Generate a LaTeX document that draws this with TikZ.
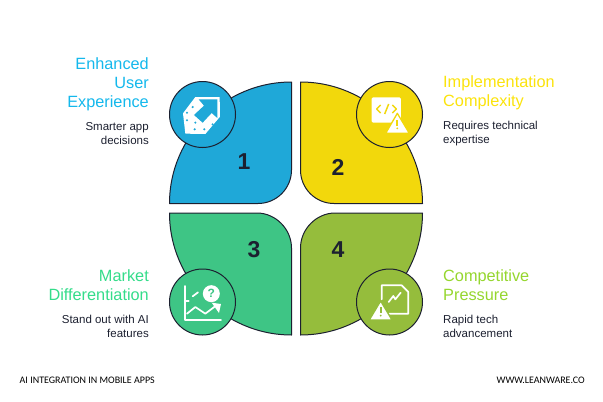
\documentclass[tikz,border=0pt]{standalone}
\usepackage{fontspec}
\setmainfont{Liberation Sans}
\newfontfamily\footfont{Carlito}
\usetikzlibrary{arrows.meta,positioning}
\definecolor{ink}{HTML}{1C2030}
\definecolor{blueFill}{HTML}{1FA8D8}
\definecolor{yellowFill}{HTML}{F2D80C}
\definecolor{greenFill}{HTML}{3EC585}
\definecolor{oliveFill}{HTML}{95BD3C}
\definecolor{blueText}{HTML}{14B8EC}
\definecolor{yellowText}{HTML}{FBE30C}
\definecolor{greenText}{HTML}{34DC8A}
\definecolor{oliveText}{HTML}{95D62E}
\tikzset{%
  % Specifications for style of nodes:
        petal/.style = {draw=ink, line width=1pt, line join=round},
      iconDot/.style = {minimum size=66pt, circle, draw=ink, line width=1pt, inner sep=0pt},
       number/.style = {text=ink, font=\fontsize{23}{23}\selectfont\bfseries, inner sep=0pt},
    titleLeft/.style = {anchor=east, align=right, inner sep=0pt,
                        font=\fontsize{16.3}{19}\selectfont},
   titleRight/.style = {titleLeft, anchor=west, align=left},
      subLeft/.style = {anchor=east, align=right, inner sep=0pt, text=ink,
                        font=\fontsize{11.5}{14}\selectfont},
     subRight/.style = {subLeft, anchor=west, align=left},
     footNote/.style = {inner sep=0pt, text=black, font=\footfont\fontsize{10}{11}\selectfont},
     iconLine/.style = {draw=white, line width=1.7pt, line cap=round, line join=round},
}
\begin{document}
\begin{tikzpicture}[x=1pt, y=-1pt]
\useasboundingbox (0,0) rectangle (603,402);

% the four petals
\draw[petal, fill=blueFill] (291.5,82) -- (291.5,170)
  .. controls (291.5,188.5) and (276.5,203.5) .. (258,203.5) -- (169.5,203.5)
  .. controls (169.5,136.5) and (224.5,82) .. cycle;
\draw[petal, fill=yellowFill] (300.5,82) -- (300.5,170)
  .. controls (300.5,188.5) and (315.5,203.5) .. (334,203.5) -- (422.5,203.5)
  .. controls (422.5,136.5) and (367.5,82) .. cycle;
\draw[petal, fill=greenFill] (169.5,213) -- (257,213)
  .. controls (275.5,213) and (291.5,229) .. (291.5,248) -- (291.5,335)
  .. controls (224.5,335) and (169.5,280) .. cycle;
\draw[petal, fill=oliveFill] (422.5,213) -- (335,213)
  .. controls (316.5,213) and (300.5,229) .. (300.5,248) -- (300.5,335)
  .. controls (367.5,335) and (422.5,280) .. cycle;

\node (DotA) [iconDot, fill=blueFill]   at (202.5,114.5) {};
\node (DotB) [iconDot, fill=yellowFill] at (389.5,114.5) {};
\node (DotC) [iconDot, fill=greenFill]  at (202.5,302) {};
\node (DotD) [iconDot, fill=oliveFill]  at (389.5,302) {};

\node (NumA) [number] at (244,162) {1};
\node (NumB) [number] at (338,167) {2};
\node (NumC) [number] at (254,250) {3};
\node (NumD) [number] at (338,250) {4};

% texts
\node (TitleA) [titleLeft, text=blueText] at (149,84) {Enhanced\\User\\Experience};
\node (SubA)   [subLeft] at (149,134) {Smarter app\\decisions};
\node (TitleB) [titleRight, text=yellowText] at (443,93) {Implementation\\Complexity};
\node (SubB)   [subRight] at (443,134) {Requires technical\\expertise};
\node (TitleC) [titleLeft, text=greenText] at (149,285) {Market\\Differentiation};
\node (SubC)   [subLeft] at (149,326) {Stand out with AI\\features};
\node (TitleD) [titleRight, text=oliveText] at (443,285) {Competitive\\Pressure};
\node (SubD)   [subRight] at (443,326) {Rapid tech\\advancement};
\node (FootL)  [footNote, anchor=west] at (19.5,380) {AI INTEGRATION IN MOBILE APPS};
\node (FootR)  [footNote, anchor=east] at (585,380) {WWW.LEANWARE.CO};

% icon 1
\begin{scope}[shift={(172,85)}, x=.3333pt, y=-.3333pt]
  \fill[white] (70,36) -- (143,36) -- (144,95) -- (100,147) -- (40,146) -- (33,85) -- cycle;
  \fill[blueFill] (80,43) -- (136,43) -- (136,99) -- (119,84) -- (92,113) -- (66,90) -- (96,62) -- cycle;
  \foreach \dotx/\doty in {62/66, 45/83, 45/106, 70/113, 68/133, 97/133, 122/118}
    \fill[blueFill] (\dotx,\doty) circle (3.5);
\end{scope}

% icon 2
\begin{scope}[shift={(290,70)}, x=.3333pt, y=-.3333pt]
  \fill[white, rounded corners=1.5pt] (245,82) rectangle (333,158);
  \draw[draw=yellowFill, line width=1.5pt, line join=round] (272,105) -- (260,117) -- (272,129);
  \draw[draw=yellowFill, line width=1.5pt] (296,102) -- (284,132);
  \draw[draw=yellowFill, line width=1.5pt, line join=round] (307,105) -- (319,117) -- (307,129);
  \fill[white, draw=yellowFill, line width=1.3pt, line join=round] (322,130) -- (358,190) -- (287,190) -- cycle;
  \fill[yellowFill] (319.5,150) rectangle (324.5,168);
  \fill[yellowFill] (322,175) circle (3);
\end{scope}

% icon 3
\begin{scope}[shift={(172,272)}, x=.3333pt, y=-.3333pt]
  \draw[iconLine] (38,42) -- (38,145) -- (147,145);
  \draw[iconLine] (38,86) -- (50,86);
  \draw[iconLine] (62,73) -- (78,61);
  \draw[iconLine] (45,125) -- (70,105) -- (100,125) -- (128,104);
  \fill[white] (119,92) -- (147,96) -- (141,123) -- cycle;
  \node (AskC) [circle, fill=white, minimum size=17pt, inner sep=0pt, text=greenFill,
                font=\fontsize{12}{12}\selectfont\bfseries] at (118,65) {?};
\end{scope}

% icon 4
\begin{scope}[shift={(360,272)}, x=.3333pt, y=-.3333pt]
  \draw[iconLine] (65,82) -- (65,40) -- (125,40) -- (145,60) -- (145,125) -- (88,125);
  \draw[iconLine] (86,90) -- (100,72) -- (106,82) -- (122,62);
  \fill[white, draw=oliveFill, line width=1.3pt, line join=round] (62,87) -- (96,144) -- (28,144) -- cycle;
  \fill[oliveFill] (59.5,106) rectangle (64.5,124);
  \fill[oliveFill] (62,131) circle (3);
\end{scope}
\end{tikzpicture}
\end{document}
